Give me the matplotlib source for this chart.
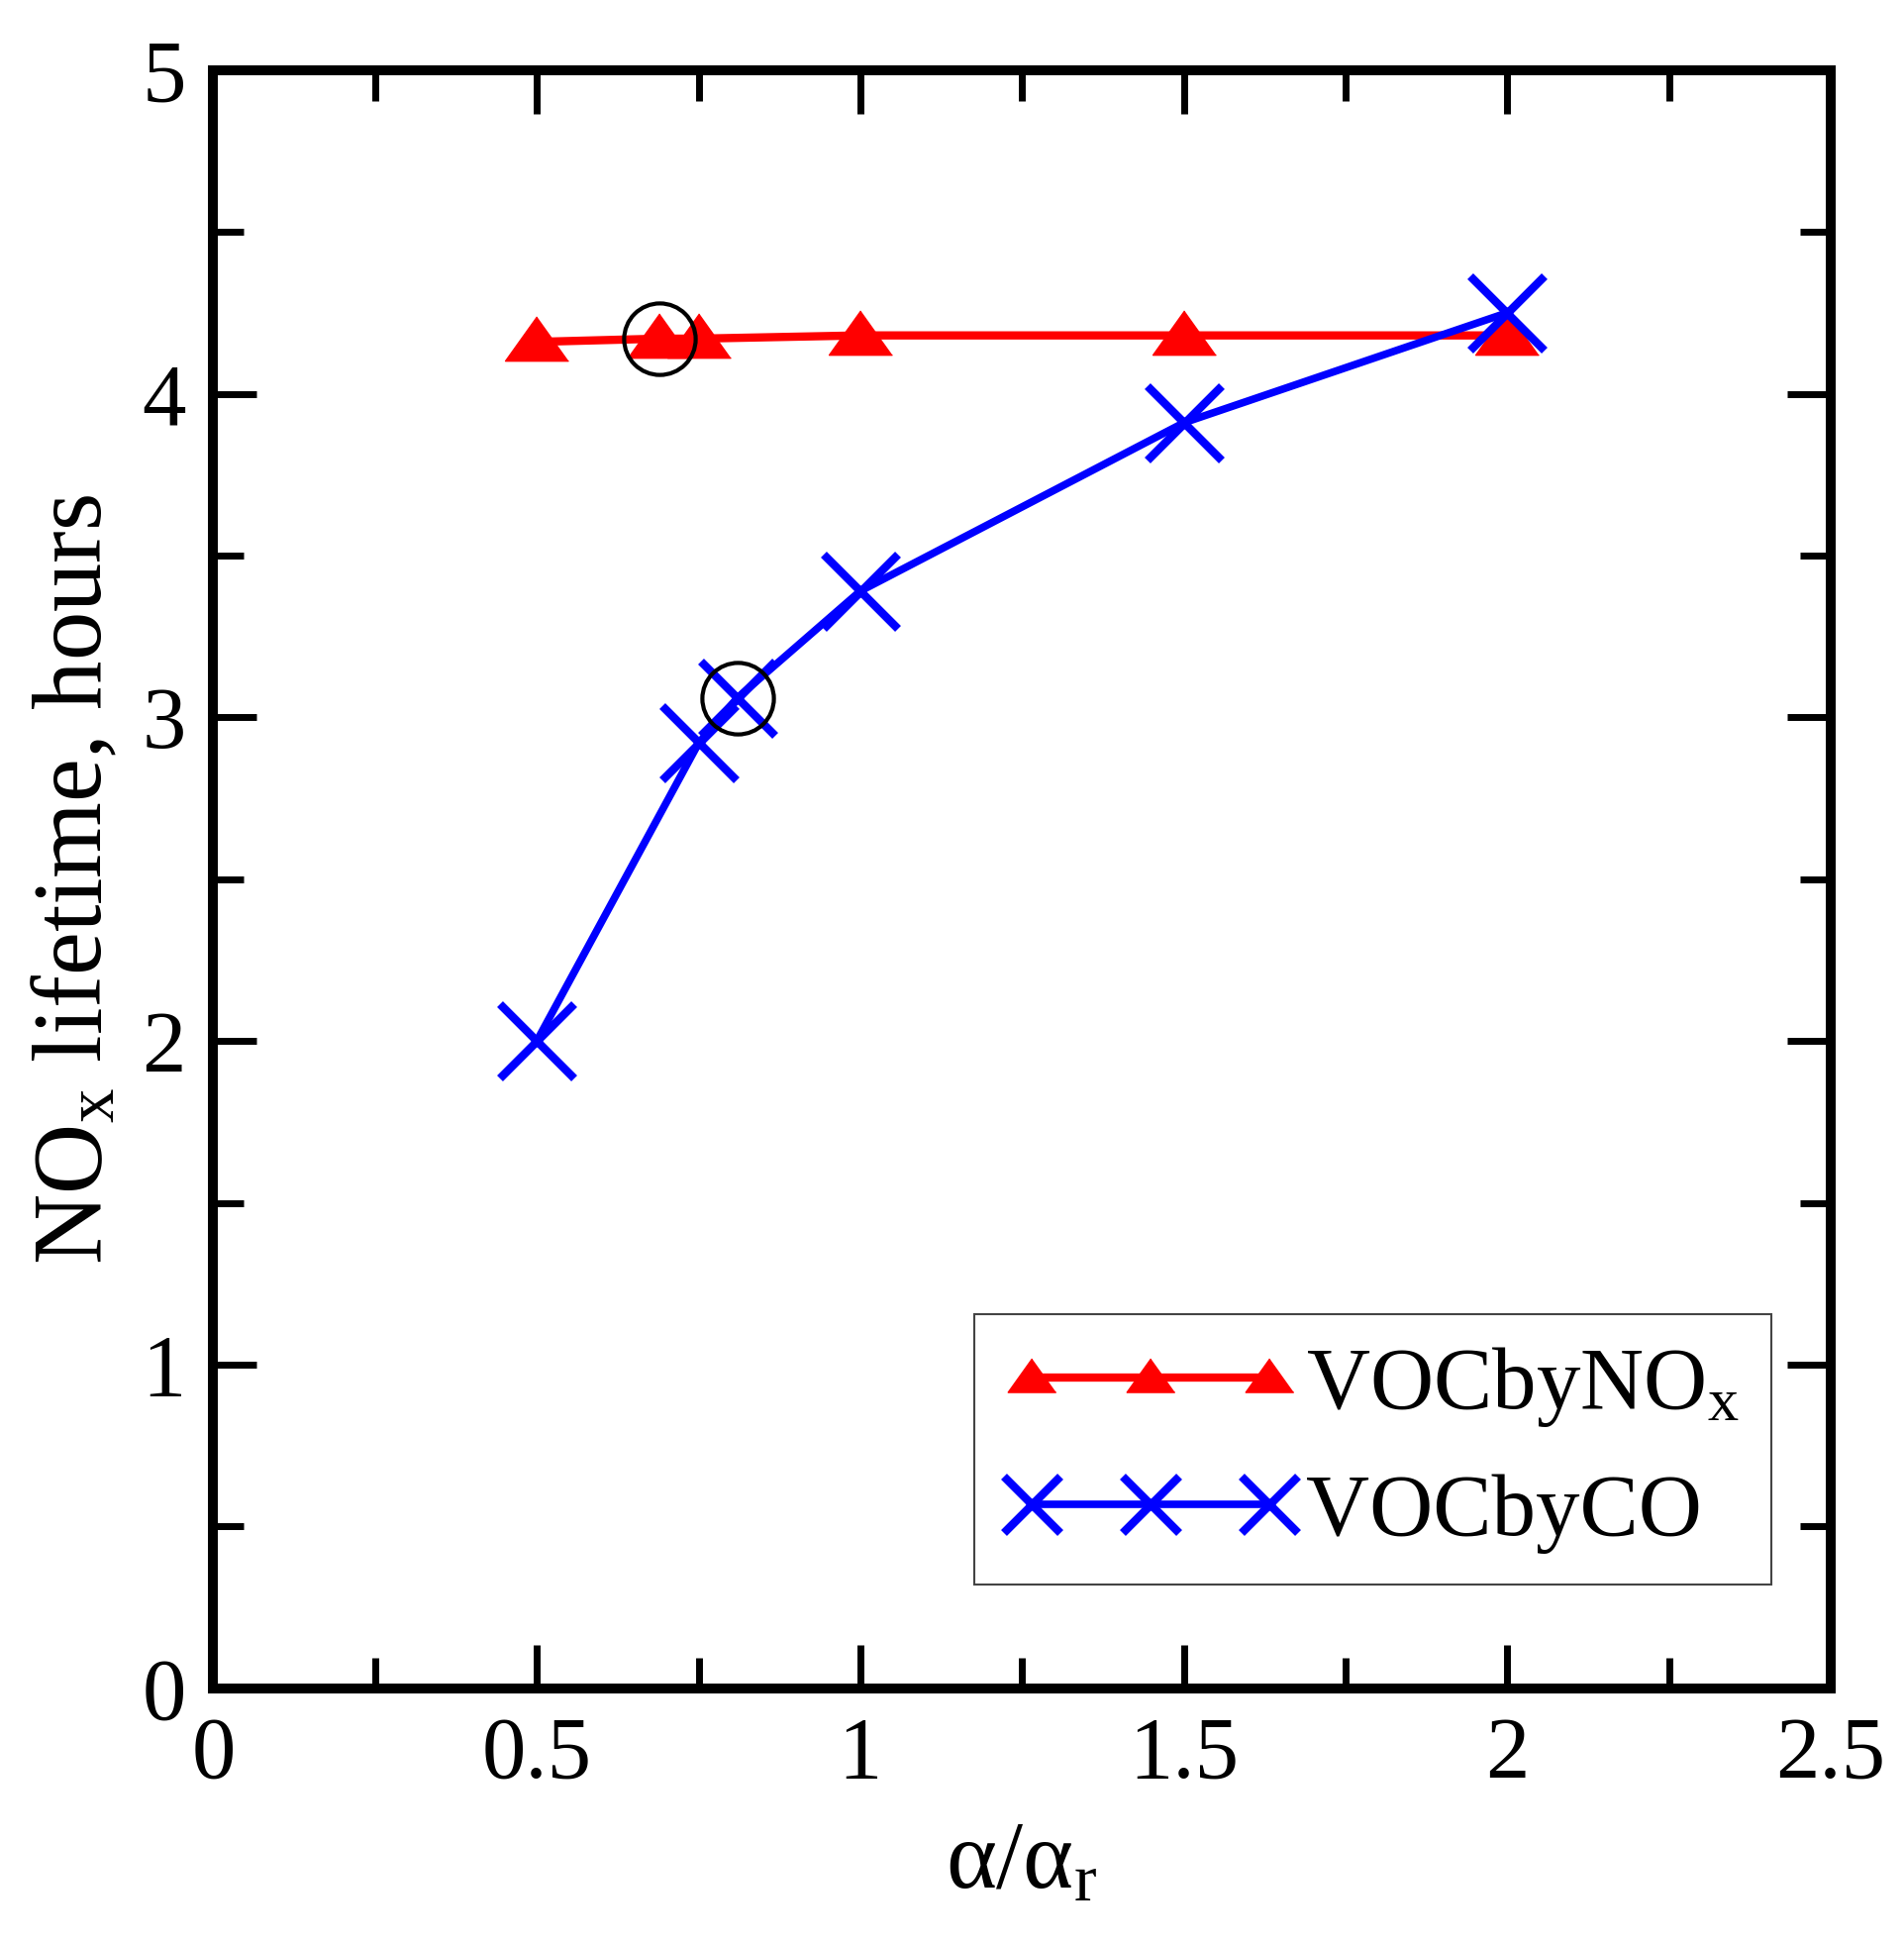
import matplotlib
matplotlib.use("Agg")
import matplotlib.pyplot as plt
from matplotlib import font_manager
from matplotlib.ticker import MultipleLocator

# pick a Times-like serif that is really installed
have = {f.name for f in font_manager.fontManager.ttflist}
SERIF = 'DejaVu Serif'
for cand in ['Liberation Serif', 'Tinos', 'Times New Roman', 'FreeSerif',
             'Nimbus Roman', 'TeX Gyre Termes']:
    if cand in have:
        SERIF = cand
        break

plt.rcParams['font.family']      = [SERIF, 'DejaVu Serif']
plt.rcParams['mathtext.fontset'] = 'custom'
plt.rcParams['mathtext.rm']      = SERIF
plt.rcParams['mathtext.it']      = SERIF + ':italic'

# values
alpha_nox = [0.5, 0.69, 0.75, 1.0, 1.5, 2.0]
life_nox  = [4.16, 4.17, 4.17, 4.18, 4.18, 4.18]

alpha_co  = [0.5, 0.75, 0.81, 1.0, 1.5, 2.0]
life_co   = [2.00, 2.92, 3.06, 3.39, 3.91, 4.25]

# circled (reference) points
ring_x = [0.69, 0.81]
ring_y = [4.17, 3.06]

X_TICKS = [0, 0.5, 1, 1.5, 2, 2.5]
Y_TICKS = [0, 1, 2, 3, 4, 5]

FS = 64

fig = plt.figure(figsize=(19.24, 19.64), dpi=100)
ax  = fig.add_axes([0.112, 0.132, 0.849, 0.832])

tri = [(0, 0.80), (-1, -0.60), (1, -0.60)]

ax.plot(alpha_nox, life_nox, color='red', lw=6, marker=tri, ms=46,
        mec='red', mfc='red', label='VOCbyNO$_{\\mathrm{x}}$', zorder=3)
ax.plot(alpha_co, life_co, color='blue', lw=5.5, marker='x', ms=54,
        mew=6, mec='blue', label='VOCbyCO', zorder=3)
ax.plot(ring_x, ring_y, ls='none', marker='o', ms=52, mfc='none',
        mec='black', mew=3, zorder=4)

ax.set_xlim(0, 2.5)
ax.set_ylim(0, 5)
ax.set_xticks(X_TICKS)
ax.set_yticks(Y_TICKS)
ax.set_xticklabels(['0', '0.5', '1', '1.5', '2', '2.5'])
ax.set_yticklabels([str(v) for v in Y_TICKS])
ax.xaxis.set_minor_locator(MultipleLocator(0.25))
ax.yaxis.set_minor_locator(MultipleLocator(0.5))

ax.tick_params(which='both', direction='in', top=True, right=True,
               width=5, labelsize=FS, pad=20)
ax.tick_params(which='major', length=32)
ax.tick_params(which='minor', length=22)

for sp in ax.spines.values():
    sp.set_linewidth(7.2)

ax.set_xlabel('α/α$_{\\mathrm{r}}$', fontsize=70, labelpad=18)
ax.set_ylabel('NO$_{\\mathrm{x}}$ lifetime, hours', fontsize=71, labelpad=14)

leg = ax.legend(loc='lower right', bbox_to_anchor=(0.963, 0.064),
                borderaxespad=0, fontsize=FS, numpoints=3, markerscale=0.76,
                handlelength=3.3, handletextpad=0.12, labelspacing=0.5,
                borderpad=0.35, fancybox=False, framealpha=1)
leg.get_frame().set_edgecolor('#444444')
leg.get_frame().set_linewidth(1.5)

fig.savefig('out.png', dpi=100)
